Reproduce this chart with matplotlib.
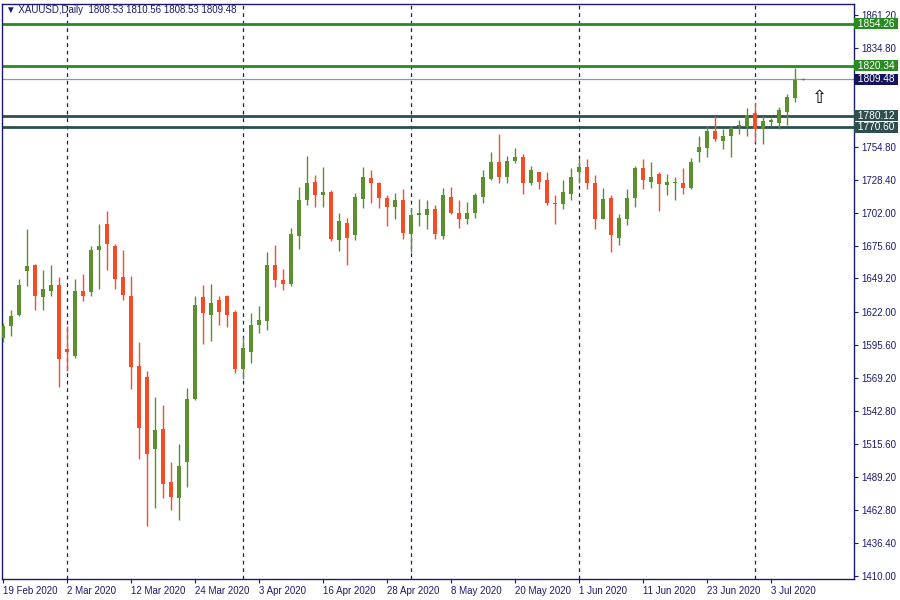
import pandas as pd
import matplotlib
matplotlib.use("Agg")
import matplotlib.pyplot as plt

plt.rcParams['font.family'] = ['Liberation Sans', 'DejaVu Sans']

# -----------------------------
# data
# -----------------------------
# trading days, Good Friday (10 Apr) missing
dates = pd.bdate_range("2020-02-19", "2020-07-09")
dates = dates[dates != pd.Timestamp("2020-04-10")]

opens = [1601, 1611, 1620, 1655, 1660, 1634, 1639, 1644, 1592, 1587,
         1639, 1638, 1672, 1693, 1675, 1650, 1635, 1579, 1570, 1512,
         1528, 1485, 1472, 1501, 1552, 1634, 1620, 1632, 1635, 1622,
         1576, 1590, 1612, 1615, 1660, 1648, 1645, 1683, 1712, 1727,
         1716, 1719, 1680, 1694, 1684, 1713, 1730, 1726, 1714, 1707,
         1712, 1685, 1700, 1700, 1705, 1683, 1715, 1702, 1697, 1702,
         1715, 1729, 1743, 1731, 1744, 1747, 1726, 1735, 1728, 1710,
         1709, 1717, 1735, 1739, 1726, 1697, 1714, 1682, 1697, 1714,
         1738, 1727, 1733, 1724, 1726, 1726, 1722, 1751, 1754, 1768,
         1760, 1764, 1772, 1771, 1782, 1769, 1775, 1774, 1783, 1794.5,
         1808.53]
highs = [1613, 1624, 1649, 1689, 1661, 1656, 1660, 1650, 1611, 1649,
         1653, 1675, 1693, 1703, 1677, 1672, 1651, 1598, 1575, 1554,
         1547, 1501, 1516, 1561, 1635, 1644, 1645, 1635, 1636, 1624,
         1602, 1621, 1627, 1670, 1676, 1657, 1690, 1723, 1748, 1732,
         1739, 1720, 1702, 1698, 1718, 1739, 1736, 1727, 1716, 1718,
         1721, 1706, 1713, 1712, 1708, 1722, 1723, 1712, 1711, 1718,
         1736, 1751, 1765, 1748, 1754, 1749, 1740, 1735, 1735, 1716,
         1728, 1738, 1745, 1745, 1732, 1722, 1716, 1701, 1721, 1740,
         1745, 1743, 1735, 1733, 1731, 1738, 1746, 1764, 1772, 1780,
         1769, 1772, 1777, 1786, 1790, 1780, 1778, 1787, 1797.5, 1818.5,
         1810.56]
lows = [1598, 1603, 1619, 1643, 1624, 1624, 1635, 1562, 1575, 1585,
        1631, 1635, 1641, 1656, 1641, 1632, 1560, 1504, 1450, 1464,
        1472, 1463, 1455, 1481, 1551, 1596, 1599, 1612, 1610, 1573,
        1568, 1581, 1605, 1608, 1642, 1640, 1643, 1673, 1708, 1707,
        1707, 1679, 1671, 1660, 1680, 1706, 1710, 1706, 1691, 1697,
        1681, 1670, 1691, 1689, 1681, 1681, 1701, 1690, 1693, 1698,
        1710, 1728, 1726, 1726, 1742, 1717, 1724, 1721, 1708, 1693,
        1705, 1712, 1726, 1721, 1689, 1697, 1670, 1676, 1692, 1707,
        1721, 1722, 1703, 1716, 1712, 1717, 1721, 1743, 1747, 1760,
        1753, 1747, 1765, 1764, 1759, 1757, 1772, 1769, 1773, 1791,
        1808.53]
closes = [1611, 1619, 1644, 1659, 1635, 1641, 1644, 1584, 1590, 1639,
          1635, 1672, 1675, 1677, 1649, 1636, 1578, 1529, 1508, 1527,
          1484, 1473, 1498, 1552, 1628, 1621, 1629, 1622, 1620, 1576,
          1593, 1612, 1616, 1660, 1648, 1645, 1685, 1712, 1726, 1716,
          1719, 1681, 1695, 1682, 1715, 1731, 1726, 1714, 1707, 1712,
          1686, 1700, 1702, 1705, 1685, 1716, 1702, 1697, 1702, 1716,
          1731, 1743, 1731, 1744, 1747, 1726, 1736, 1727, 1710, 1709,
          1719, 1731, 1739, 1726, 1697, 1713, 1684, 1698, 1714, 1738,
          1728, 1731, 1725, 1727, 1727, 1722, 1743, 1755, 1768, 1761,
          1764, 1770, 1773, 1781, 1769, 1776, 1776.5, 1785, 1795, 1809,
          1809.48]

# horizontal levels on the chart
levels = [1854.26, 1820.34, 1780.12, 1770.60]
level_colors = ["#2a8a22", "#2a8a22", "#2f4f4f", "#2f4f4f"]
bid_price = 1809.48

price_ticks = [1861.20, 1834.80, 1754.80, 1728.40, 1702.00, 1675.60,
               1649.20, 1622.00, 1595.60, 1569.20, 1542.80, 1515.60,
               1489.20, 1462.80, 1436.40, 1410.00]

header = "\u25BC XAUUSD,Daily  1808.53 1810.56 1808.53 1809.48"

# -----------------------------
# plot
# -----------------------------
navy = "#1a1a6e"
up_col = "#5b8f2f"
down_col = "#f24d26"

fig = plt.figure(figsize=(9, 6), dpi=100)
ax = fig.add_axes([2 / 900, 21 / 600, 852 / 900, 575 / 600])

x = list(range(len(opens)))
for i in x:
    o, h, l, c = opens[i], highs[i], lows[i], closes[i]
    col = up_col if c >= o else down_col
    ax.vlines(i, l, h, color=col, linewidth=1.0, zorder=3)
    body = abs(c - o)
    if body < 1.0:
        body = 1.0
    ax.bar(i, body, bottom=min(o, c), width=0.62, color=col,
           linewidth=0, zorder=4)

# month separators
for i in x:
    if i > 0 and dates[i].month != dates[i - 1].month:
        ax.axvline(i, color=navy, linestyle=(0, (3, 3)), linewidth=0.9, zorder=1)

# levels + right side labels (boxes a bit wider than tall, like MT4)
ytrans = ax.get_yaxis_transform()
box = dict(boxstyle="square,pad=0.06", ec="none")
for lv, lc in zip(levels, level_colors):
    ax.axhline(lv, color=lc, linewidth=2.0, zorder=2)
    ax.text(1.001, lv, f" {lv:.2f} ", transform=ytrans, color="white",
            fontsize=7.3, ha="left", va="center", clip_on=False,
            bbox=dict(box, fc=lc))
ax.axhline(bid_price, color="#8a99a8", linewidth=0.9, zorder=2)
ax.text(1.001, bid_price, f" {bid_price:.2f} ", transform=ytrans,
        color="white", fontsize=7.3, ha="left", va="center", clip_on=False,
        bbox=dict(box, fc="#14145a"))

# hollow up arrow
ax.text(102, 1794, "\u21E7", fontsize=13, ha="center", va="center",
        color="black", family=["DejaVu Sans"], zorder=5)

# header
ax.text(0.005, 0.989, header, transform=ax.transAxes, fontsize=7,
        color=navy, ha="left", va="center")

ax.set_xlim(-0.125, 106.375)
ax.set_ylim(1407.2, 1870.0)

ax.yaxis.tick_right()
ax.set_yticks(price_ticks)
ax.set_yticklabels([f"{p:.2f}" for p in price_ticks])
ax.tick_params(axis="y", direction="out", length=3, width=0.8, colors=navy,
               labelsize=7, pad=2)

xt = list(range(0, len(opens), 8))
ax.set_xticks(xt)
ax.set_xticklabels([f"{dates[i].day} {dates[i]:%b %Y}" for i in xt])
ax.tick_params(axis="x", direction="out", length=3, width=0.8, colors=navy,
               labelsize=7, pad=2)
plt.setp(ax.get_xticklabels(), ha="left")

for s in ax.spines.values():
    s.set_color(navy)
    s.set_linewidth(1.0)

plt.savefig("out.png", dpi=100)
plt.close()
